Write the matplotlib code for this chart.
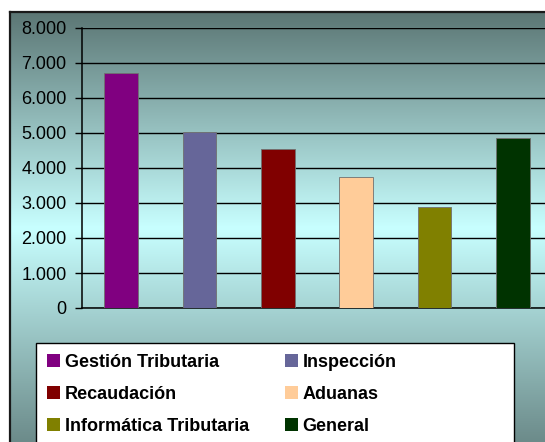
import numpy as np
import matplotlib
matplotlib.use("Agg")
import matplotlib.pyplot as plt
from matplotlib.patches import Patch, Rectangle

plt.rcParams['font.family'] = ['Liberation Sans', 'DejaVu Sans']

categories = ["Gestión Tributaria", "Inspección", "Recaudación",
              "Aduanas", "Informática Tributaria", "General"]
values = [6720, 5040, 4550, 3730, 2880, 4850]
colors = ["#800080", "#666699", "#800000", "#FFCC99", "#808000", "#003300"]
yticks = [0, 1000, 2000, 3000, 4000, 5000, 6000, 7000, 8000]
ytick_labels = ["0", "1.000", "2.000", "3.000", "4.000", "5.000", "6.000", "7.000", "8.000"]

W, H = 545, 442
fig = plt.figure(figsize=(W / 100, H / 100), dpi=100, facecolor="white")

def fx(px):
    return px / W

def fy(py):
    return 1 - py / H

# background frame with vertical gradient
top, mid, bot = 12, 228, 442
bg = fig.add_axes([fx(10), 0, 1 - fx(10) + 0.05, fy(top)])
ys = np.arange(top, bot + 1)
c_top = np.array([91, 118, 116]) / 255
c_mid = np.array([200, 255, 255]) / 255
c_bot = np.array([108, 139, 138]) / 255
grad = np.zeros((len(ys), 1, 3))
for i, y in enumerate(ys):
    if y <= mid:
        t = (y - top) / (mid - top)
        grad[i, 0] = c_top * (1 - t) + c_mid * t
    else:
        t = (y - mid) / (bot - mid)
        grad[i, 0] = c_mid * (1 - t) + c_bot * t
bg.imshow(grad, aspect="auto", extent=[0, 1, 0, 1], interpolation="bilinear")
bg.set_xlim(0, 1)
bg.set_ylim(0, 1)
bg.set_xticks([])
bg.set_yticks([])
for s in ["right", "bottom"]:
    bg.spines[s].set_visible(False)
for s in ["left", "top"]:
    bg.spines[s].set_linewidth(1.6)
    bg.spines[s].set_color("#1a1a1a")

# main chart axes
ax = fig.add_axes([fx(82), fy(308), fx(552) - fx(82), fy(28) - fy(308)])
ax.patch.set_alpha(0)
x = np.arange(len(categories))
ax.bar(x, values, width=0.43, color=colors, edgecolor="#707070", linewidth=0.6, zorder=3)
ax.set_xlim(-0.5, len(categories) - 0.5)
ax.set_ylim(0, 8000)
ax.set_yticks(yticks)
ax.set_yticklabels(ytick_labels, fontsize=13)
ax.set_xticks([])
ax.yaxis.grid(True, color="black", linewidth=1.0, zorder=1)
ax.set_axisbelow(True)
ax.tick_params(axis="y", length=5, width=1, color="black", pad=6)
for s in ["right", "top"]:
    ax.spines[s].set_visible(False)
ax.spines["left"].set_linewidth(1.1)
ax.spines["bottom"].set_linewidth(1.1)

# legend box
fig.patches.append(Rectangle((fx(36), -0.05), fx(514) - fx(36), fy(343) + 0.05,
                             transform=fig.transFigure, facecolor="white",
                             edgecolor="black", linewidth=1.0, zorder=5))
handles = [Patch(facecolor=c, edgecolor="none") for c in colors]
order = [0, 2, 4, 1, 3, 5]
leg = fig.legend([handles[i] for i in order], [categories[i] for i in order],
                 ncol=2, loc="upper left", bbox_to_anchor=(fx(47), fy(354)),
                 frameon=False, prop={"weight": "bold", "size": 13},
                 handlelength=0.72, handleheight=0.72, handletextpad=0.25,
                 columnspacing=2.0, labelspacing=0.82, borderpad=0, borderaxespad=0)
leg.set_zorder(6)

fig.savefig("out.png", dpi=100, facecolor="white")
